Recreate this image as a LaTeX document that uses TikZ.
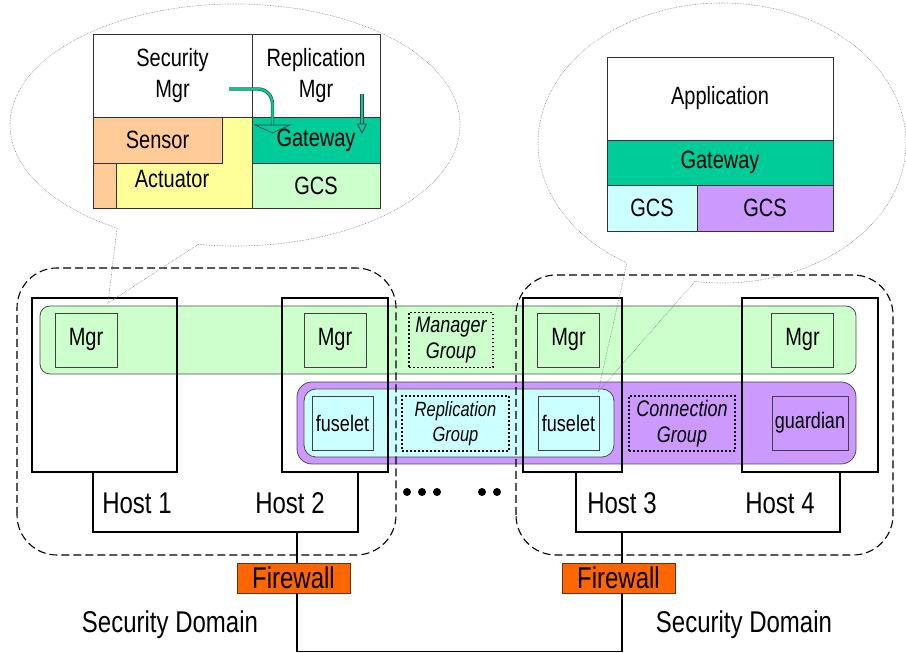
\documentclass[tikz,border=0pt]{standalone}
\usepackage{fontspec}
\setmainfont{Liberation Sans}[FakeStretch=0.8]
\usetikzlibrary{arrows.meta}

\definecolor{mgrgreen}{HTML}{CCFFCC}
\definecolor{conpurple}{HTML}{CC99FF}
\definecolor{repcyan}{HTML}{CCFFFF}
\definecolor{gwteal}{HTML}{00CC99}
\definecolor{sensorange}{HTML}{FFCC99}
\definecolor{actyellow}{HTML}{FFFF99}
\definecolor{fwred}{HTML}{FF6600}
\definecolor{fwedge}{HTML}{663300}

\begin{document}
\begin{tikzpicture}[x=1pt, y=1pt,
  cell/.style={draw=black!80, line width=0.8pt, inner sep=0pt, align=center, font=\fontsize{25}{31}\selectfont},
  hostbox/.style={draw=black, line width=2pt, inner sep=0pt},
  comp/.style={draw=black!75, line width=0.8pt, inner sep=0pt, minimum height=54pt, font=\fontsize{25}{30}\selectfont},
  groupbox/.style={draw=black, line width=1.6pt, dash pattern=on 1.6pt off 2.4pt, inner sep=0pt, minimum height=55pt, align=center, font=\itshape\fontsize{22.5}{26}\selectfont},
  band/.style={draw=black!70, line width=0.8pt},
  secdomain/.style={draw=black, line width=1.1pt, dash pattern=on 8pt off 4pt, rounded corners=40pt},
  lan/.style={draw=black, line width=1.6pt},
  firewall/.style={draw=fwedge, fill=fwred, line width=0.8pt, minimum width=113pt, minimum height=30pt, inner sep=0pt, font=\fontsize{30}{30}\selectfont},
  hostlabel/.style={inner sep=0pt, font=\fontsize{30}{30}\selectfont},
  bubble/.style={draw=gray, line width=0.6pt, densely dotted},
  gwarrow/.style={draw=black!75, double=gwteal, double distance=2.2pt, line width=0.6pt}
]
\useasboundingbox (0,0) rectangle (906,653);
\clip (0,0) rectangle (906,653);

% Groups across the hosts
\fill[mgrgreen, band, rounded corners=10pt] (40,279) rectangle (856,347);
\fill[conpurple, band, rounded corners=15pt] (297,189) rectangle (856,271);
\fill[repcyan, band, rounded corners=12pt] (304,196) rectangle (614,264);

% Members
\node[comp, fill=mgrgreen, minimum width=62pt] (mgr1) at (86,313) {Mgr};
\node[comp, fill=mgrgreen, minimum width=62pt] (mgr2) at (335,313) {Mgr};
\node[comp, fill=mgrgreen, minimum width=62pt] (mgr3) at (568.5,313) {Mgr};
\node[comp, fill=mgrgreen, minimum width=62pt] (mgr4) at (802.5,313) {Mgr};
\node[comp, fill=repcyan, minimum width=61pt, font=\fontsize{22.5}{26}\selectfont] (fuse1) at (342.5,230) {fuselet};
\node[comp, fill=repcyan, minimum width=61pt, font=\fontsize{22.5}{26}\selectfont] (fuse2) at (568.5,230) {fuselet};
\node[comp, fill=conpurple, minimum width=76pt, font=\fontsize{22.5}{26}\selectfont] (guard) at (810,230) {guardian};

% Group labels
\node[groupbox, minimum width=84pt] (mgrgrp) at (451,313) {Manager\\Group};
\node[groupbox, minimum width=107pt, font=\itshape\fontsize{20.6}{25}\selectfont] (repgrp) at (455.5,229.5) {Replication\\Group};
\node[groupbox, minimum width=106pt] (congrp) at (682,229.5) {Connection\\Group};

% Hosts
\node[hostbox, minimum width=145pt, minimum height=174pt] (host1) at (104.5,268) {};
\node[hostbox, minimum width=106pt, minimum height=174pt] (host2) at (335,268) {};
\node[hostbox, minimum width=99pt, minimum height=174pt] (host3) at (572.5,268) {};
\node[hostbox, minimum width=136pt, minimum height=174pt] (host4) at (810,268) {};

\node[hostlabel] (h1) at (137,150) {Host 1};
\node[hostlabel] (h2) at (290,150) {Host 2};
\node[hostlabel] (h3) at (622,150) {Host 3};
\node[hostlabel] (h4) at (780,150) {Host 4};

% More hosts
\foreach \x in {407,422,437,482,497}
  \fill (\x,161) circle (4pt);

% Security domains
\draw[secdomain] (17,98) rectangle (396,385);
\draw[secdomain] (516,98) rectangle (893,378);

% Local networks
\coordinate (lanL) at (297,121);
\coordinate (lanR) at (622,121);
\draw[lan] ([xshift=-11.5pt]host1.south) |- (lanL) -| ([xshift=23pt]host2.south);
\draw[lan] ([xshift=3.5pt]host3.south) |- (lanR) -| ([xshift=30pt]host4.south);

% Firewalls and wide area link
\node[firewall] (fw1) at (293.5,75) {Firewall};
\node[firewall] (fw2) at (618.5,75) {Firewall};
\coordinate (wanL) at (297,1.5);
\coordinate (wanR) at (622,1.5);
\draw[lan] (lanL) -- (lanL |- fw1.north);
\draw[lan] (lanR) -- (lanR |- fw2.north);
\draw[lan] (wanL |- fw1.south) -- (wanL) -- (wanR) -- (wanR |- fw2.south);

\node[hostlabel] (sd1) at (170,28) {Security Domain};
\node[hostlabel] (sd2) at (744,28) {Security Domain};

% Manager stack
\node[cell, minimum width=159pt, minimum height=83pt] (secmgr) at (172.5,577.5) {Security\\Mgr};
\node[cell, minimum width=128pt, minimum height=83pt] (repmgr) at (316,577.5) {Replication\\Mgr};
\filldraw[fill=actyellow, draw=black!80, line width=0.8pt]
  (116,445) -- (116,490) -- (222,490) -- (222,536) -- (252,536) -- (252,445) -- cycle;
\filldraw[fill=sensorange, draw=black!80, line width=0.8pt] (93,445) rectangle (116,490);
\node[cell, fill=sensorange, minimum width=129pt, minimum height=46pt] (sensor) at (157.5,513) {Sensor};
\node[cell, draw=none] (actuator) at (172,474) {Actuator};
\node[cell, fill=gwteal, minimum width=128pt, minimum height=46pt] (gwL) at (316,513) {Gateway};
\node[cell, fill=mgrgreen, minimum width=128pt, minimum height=45pt] (gcsL) at (316,467.5) {GCS};
\draw[gwarrow] (229,564) -- (258,564) to[out=0, in=90] (272.5,549) -- (272.5,528);
\draw[black!75, line width=0.7pt] (255,528) -- (290,528) -- (272.5,520) -- cycle;
\draw[gwarrow] (362,559) -- (362,529);
\draw[black!75, line width=0.7pt] (357.5,529) -- (366.5,529) -- (362,520) -- cycle;

% Fuselet stack
\node[cell, minimum width=226pt, minimum height=83pt] (app) at (720,554.5) {Application};
\node[cell, fill=gwteal, minimum width=226pt, minimum height=45pt] (gwR) at (720,490.5) {Gateway};
\node[cell, fill=repcyan, minimum width=90pt, minimum height=46pt] (gcsR1) at (652,445) {GCS};
\node[cell, fill=conpurple, minimum width=136pt, minimum height=46pt] (gcsR2) at (765,445) {GCS};

% Callouts
\draw[bubble] (235,528) ++(260.6:225 and 121)
  arc[start angle=260.6, end angle=598.4, x radius=225, y radius=121] -- (108,350) -- cycle;
\draw[bubble] (722,510) ++(261.5:184 and 140)
  arc[start angle=261.5, end angle=598.9, x radius=184, y radius=140] -- (598,261) -- cycle;

\end{tikzpicture}
\end{document}
